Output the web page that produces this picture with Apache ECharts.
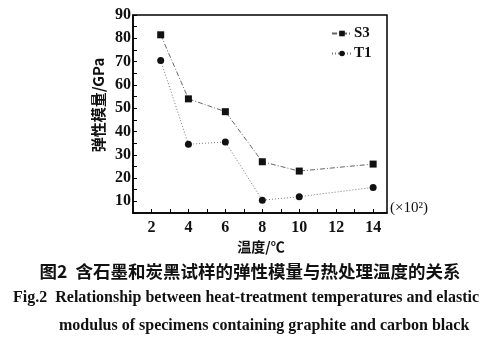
<!DOCTYPE html>
<html>
<head>
<meta charset="utf-8">
<script src="https://cdn.jsdelivr.net/npm/echarts@6/dist/echarts.min.js"></script>
<style>
html,body{margin:0;padding:0;background:#fff;}
#c{width:499px;height:340px;}
</style>
</head>
<body>
<div id="c"></div>
<script>
var temps = [2.5, 4, 6, 8, 10, 14];
var s3 = [81.5, 54, 48.5, 27, 23, 26];
var t1 = [70.5, 34.5, 35.5, 10.5, 12, 16];
var seriesNames = ['S3', 'T1'];
var yName = '弹性模量/GPa';
var xName = '温度/℃';
var xUnit = '(×10²)';
var captionCn = '图2  含石墨和炭黑试样的弹性模量与热处理温度的关系';
var captionEn1 = 'Fig.2  Relationship between heat-treatment temperatures and elastic';
var captionEn2 = 'modulus of specimens containing graphite and carbon black';

function pairs(xs, ys){ return xs.map(function(x,i){ return [x, ys[i]]; }); }

var serif = '"Liberation Serif", "DejaVu Serif", serif';
var cjk = '"Noto Sans CJK SC", sans-serif';

var chart = echarts.init(document.getElementById('c'), null, {renderer:'canvas'});
chart.setOption({
  animation: false,
  backgroundColor: '#fff',
  grid: {left: 133, top: 15, right: 112, bottom: 127, show: true, borderColor: '#000', borderWidth: 1.5, backgroundColor: 'transparent'},
  legend: {
    left: 326, top: 21, orient: 'vertical', itemWidth: 20, itemHeight: 7, itemGap: 5,
    textStyle: {fontFamily: serif, fontWeight: 'bold', fontSize: 15, color: '#111', padding: [0,0,0,-3]},
    data: [seriesNames[0], seriesNames[1]]
  },
  xAxis: {
    type: 'value', min: 1, max: 14.75, interval: 1,
    axisLine: {lineStyle: {color: '#000', width: 1.5}},
    axisTick: {inside: true, length: 4, lineStyle: {color: '#000', width: 1}},
    splitLine: {show: false},
    axisLabel: {
      margin: 7, color: '#111', fontFamily: serif, fontWeight: 'bold', fontSize: 16,
      showMaxLabel: false, showMinLabel: false,
      formatter: function(v){ return (v % 2 === 0) ? String(v) : ''; }
    }
  },
  yAxis: {
    type: 'value', min: 5, max: 90, interval: 5,
    axisLine: {lineStyle: {color: '#000', width: 1.5}},
    axisTick: {inside: true, length: 4, lineStyle: {color: '#000', width: 1}},
    splitLine: {show: false},
    axisLabel: {
      margin: 2, color: '#111', fontFamily: serif, fontWeight: 'bold', fontSize: 16,
      formatter: function(v){ return (v % 10 === 0) ? String(v) : ''; }
    }
  },
  series: [
    {
      name: seriesNames[0], type: 'line', data: pairs(temps, s3),
      symbol: 'rect', symbolSize: 7,
      itemStyle: {color: '#111'},
      lineStyle: {color: '#666', width: 1, type: [5, 2, 1, 2]}
    },
    {
      name: seriesNames[1], type: 'line', data: pairs(temps, t1),
      symbol: 'circle', symbolSize: 7,
      itemStyle: {color: '#111'},
      lineStyle: {color: '#777', width: 1, type: [1, 2]}
    }
  ],
  graphic: [
    {type: 'text', x: 98, y: 105, rotation: Math.PI/2,
     style: {text: yName, fill: '#111', font: 'bold 15px ' + cjk, textAlign: 'center', textVerticalAlign: 'middle'}},
    {type: 'text', x: 261, y: 247,
     style: {text: xName, fill: '#111', font: 'bold 14px ' + cjk, textAlign: 'center', textVerticalAlign: 'middle'}},
    {type: 'text', x: 390, y: 208,
     style: {text: xUnit, fill: '#111', font: '15px ' + serif, textAlign: 'left', textVerticalAlign: 'middle'}},
    {type: 'text', x: 250, y: 271,
     style: {text: captionCn, fill: '#111', font: 'bold 17.5px ' + cjk, textAlign: 'center', textVerticalAlign: 'middle'}},
    {type: 'text', x: 13, y: 298,
     style: {text: captionEn1, fill: '#111', font: 'bold 16px ' + serif, textAlign: 'left', textVerticalAlign: 'middle'}},
    {type: 'text', x: 59, y: 326,
     style: {text: captionEn2, fill: '#111', font: 'bold 16px ' + serif, textAlign: 'left', textVerticalAlign: 'middle'}}
  ]
});
</script>
</body>
</html>
